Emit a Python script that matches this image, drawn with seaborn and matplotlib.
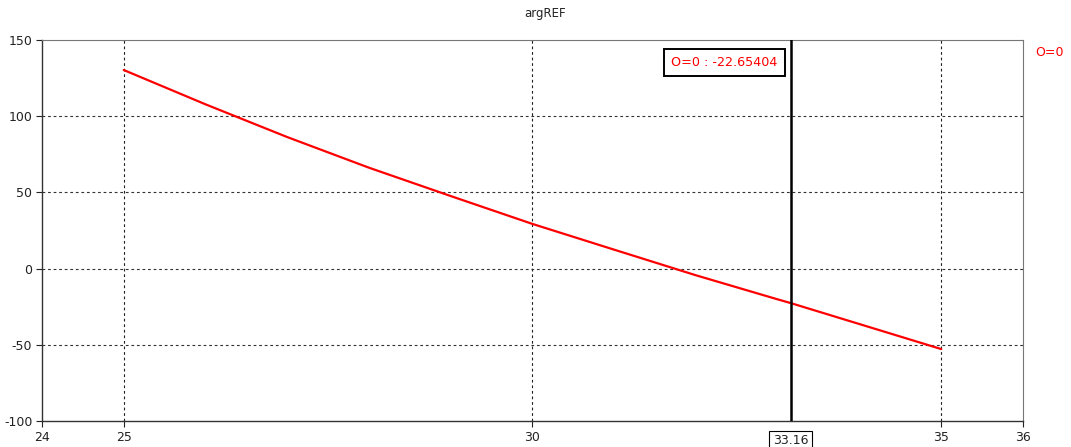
import matplotlib
matplotlib.use('Agg')

import matplotlib.pyplot as plt
import matplotlib.transforms as mtransforms
import seaborn as sns
import pandas as pd

# values
freq = [25, 26, 27, 28, 29, 30, 31, 32, 33, 33.16, 34, 35]
arg_ref = [130.3, 107.8, 86.3, 66.2, 47.6, 29.3, 12.4, -4.4, -20.2, -22.65, -36.4, -52.8]
series_name = "O=0"
marker_x = 33.16
marker_y = -22.65404
x_ticks = [24, 25, 30, 35, 36]
y_ticks = [-100, -50, 0, 50, 100, 150]

df = pd.DataFrame({"x": freq, "y": arg_ref})

sns.set_style("white")
plt.rcParams['font.family'] = ['DejaVu Sans']
plt.rcParams['axes.unicode_minus'] = False

fig = plt.figure(figsize=(10.71, 4.47), dpi=100)
ax = fig.add_axes([42 / 1071, 1 - 421 / 447, (1023 - 42) / 1071, (421 - 40) / 447])

sns.lineplot(data=df, x="x", y="y", color="#ff0000", lw=1.6, ax=ax, legend=False)

ax.set_xlim(24, 36)
ax.set_ylim(-100, 150)
ax.set_xticks(x_ticks)
ax.set_yticks(y_ticks)
ax.set_xlabel("")
ax.set_ylabel("")
ax.tick_params(axis='both', labelsize=9, colors='#222222', length=4, width=0.8,
               direction='out', bottom=True, left=True, pad=3)

# grid only at inner ticks
for gx in [25, 30, 35]:
    ax.axvline(gx, color='#222222', lw=0.8, ls=(0, (2.5, 2.5)), zorder=0)
for gy in [-50, 0, 50, 100]:
    ax.axhline(gy, color='#333333', lw=0.8, ls=(0, (2.5, 2.5)), zorder=0)

for side in ['left', 'bottom']:
    ax.spines[side].set_color('#333333')
    ax.spines[side].set_linewidth(1.0)
for side in ['top', 'right']:
    ax.spines[side].set_color('#777777')
    ax.spines[side].set_linewidth(0.8)

# cursor line
ax.axvline(marker_x, color='black', lw=1.8, zorder=3)

ax.text(marker_x - 0.16, 135, f"{series_name} : {marker_y:.5f}", color='#ff0000',
        fontsize=9.2, ha='right', va='center',
        bbox=dict(boxstyle='square,pad=0.55', fc='white', ec='black', lw=1.4), zorder=4)

trans = mtransforms.blended_transform_factory(ax.transData, ax.transAxes)
ax.text(marker_x, -0.035, f"{marker_x:.2f}", transform=trans, color='#222222',
        fontsize=9, ha='center', va='top',
        bbox=dict(boxstyle='square,pad=0.3', fc='white', ec='black', lw=0.8),
        clip_on=False)

fig.text(1035 / 1071, 1 - 53 / 447, series_name, color='#ff0000', fontsize=9,
         ha='left', va='center')
fig.text(545 / 1071, 1 - 14 / 447, "argREF", color='#222222', fontsize=8.5,
         ha='center', va='center')

fig.savefig("out.png", dpi=100, facecolor='white')
